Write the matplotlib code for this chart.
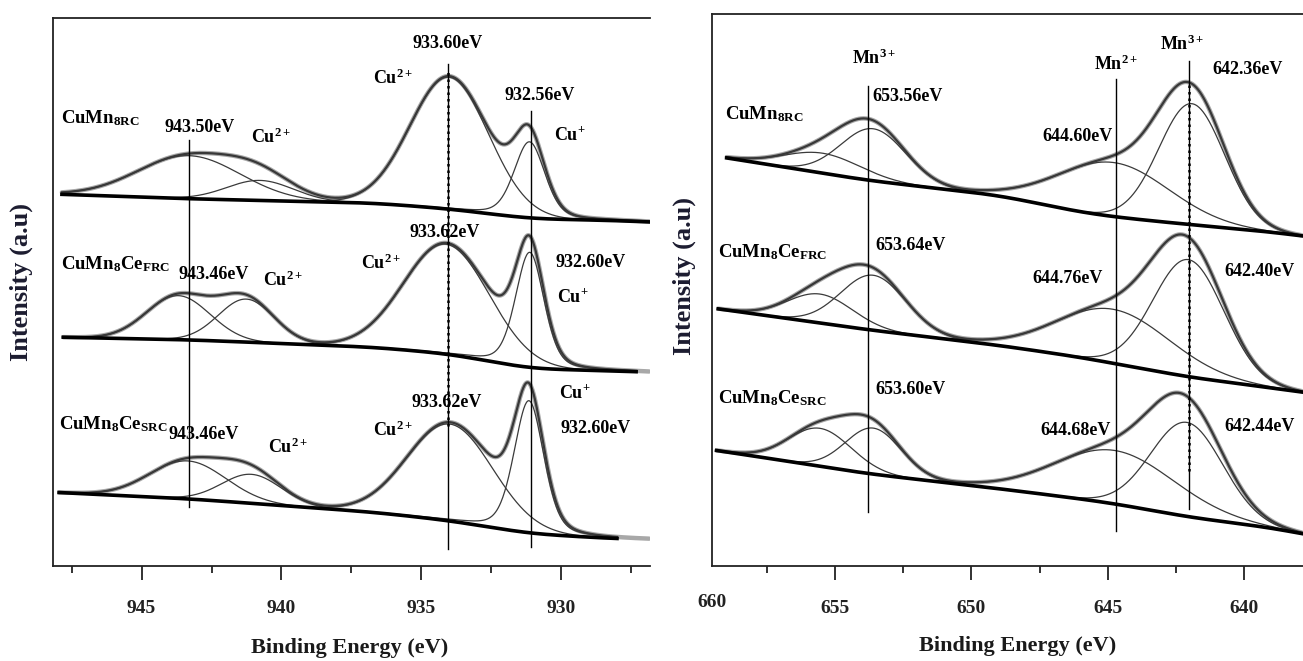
import numpy as np
import matplotlib.pyplot as plt

plt.rcParams['font.family'] = 'Liberation Serif'
plt.rcParams['mathtext.fontset'] = 'custom'
plt.rcParams['mathtext.rm'] = 'Liberation Serif:bold'
plt.rcParams['mathtext.default'] = 'rm'

# ---- Cu 2p spectra (top to bottom) ----
cu_names = ['CuMn$_{8RC}$', 'CuMn$_8$Ce$_{FRC}$', 'CuMn$_8$Ce$_{SRC}$']
cu_start = [947.85, 947.8, 947.95]
cu_end = [926.85, 927.3, 928.0]
cu_bg_e = [948.2, 943.3, 936.7, 934.0, 931.1, 928.0, 926.8]
cu_bg = [[371.5, 366.7, 362.5, 356.7, 346.7, 345.0, 343.5],
         [228.5, 225.7, 218.3, 211.7, 196.7, 194.5, 193.3],
         [73.3, 66.7, 53.3, 45.0, 31.7, 26.7, 26.0]]
# components: satellite 1, satellite 2, Cu2+, Cu+
cu_pos = [[943.31, 940.77, 934.0, 931.13],
          [943.69, 941.26, 934.1, 931.12],
          [943.35, 941.07, 933.97, 931.15]]
cu_height = [[43, 20, 132, 76],
             [44, 43, 110, 115],
             [38, 29, 97, 132]]
cu_fwhm = [[4.3, 2.8, 3.3, 1.3],
           [2.66, 2.33, 3.6, 1.2],
           [3.2, 2.5, 3.6, 1.25]]
cu_eta = [0.0, 0.0, 0.0, 0.3]

cu_lines = [943.31, 934.05, 931.08]
cu_lines_top = [425.7, 501.7, 455.0]
cu_lines_bot = [58.3, 16.7, 18.3]

cu_notes = [('933.60eV', 934.04, 522), ('Cu$^{2+}$', 936.0, 487),
            ('932.56eV', 930.75, 470), ('Cu$^{+}$', 929.68, 430),
            ('943.50eV', 942.94, 438), ('Cu$^{2+}$', 940.38, 428),
            ('933.62eV', 934.15, 333), ('Cu$^{2+}$', 936.44, 302),
            ('932.60eV', 928.96, 303), ('Cu$^{+}$', 929.57, 268),
            ('943.46eV', 942.44, 291), ('Cu$^{2+}$', 939.94, 285),
            ('933.62eV', 934.09, 163), ('Cu$^{2+}$', 936.0, 135),
            ('Cu$^{+}$', 929.5, 172), ('932.60eV', 928.78, 137),
            ('943.46eV', 942.77, 131), ('Cu$^{2+}$', 939.76, 118)]
cu_name_pos = [(947.9, 447), (947.9, 301), (947.95, 141)]

# ---- Mn 2p spectra (top to bottom) ----
mn_start = [658.97, 659.28, 659.34]
mn_end = [637.9, 637.9, 637.9]
mn_bg_e = [659.3, 653.78, 648.95, 646.02, 644.7, 642.03, 639.0, 637.85]
mn_bg = [[409.0, 385.0, 370.0, 353.3, 348.3, 341.0, 333.5, 329.5],
         [256.7, 235.7, 220.0, 208.3, 201.7, 188.3, 177.7, 173.3],
         [115.0, 91.7, 76.7, 66.7, 61.7, 48.3, 37.7, 31.7]]
# components: shoulder, Mn3+ 2p1/2, Mn2+, Mn3+ 2p3/2
mn_pos = [[655.45, 653.6, 644.8, 641.93],
          [655.55, 653.6, 644.8, 642.05],
          [655.55, 653.6, 644.74, 642.11]]
mn_height = [[20, 52, 54, 121],
             [29, 55, 54, 117],
             [38, 46, 53.5, 94]]
mn_fwhm = [[3.3, 2.8, 4.8, 2.83],
           [2.8, 2.8, 4.9, 3.05],
           [2.7, 2.4, 5.2, 3.1]]
mn_eta = [0.0, 0.0, 0.0, 0.0]

mn_lines = [653.78, 644.70, 642.02]
mn_lines_top = [480.0, 486.7, 505.0]
mn_lines_bot = [53.3, 35.0, 56.7]

mn_notes = [('Mn$^{3+}$', 653.57, 507), ('653.56eV', 652.34, 469),
            ('Mn$^{2+}$', 644.71, 501), ('Mn$^{3+}$', 642.28, 521),
            ('642.36eV', 639.88, 496), ('644.60eV', 646.1, 429),
            ('653.64eV', 652.22, 320), ('644.76eV', 646.48, 287),
            ('642.40eV', 639.46, 294), ('653.60eV', 652.25, 176),
            ('644.68eV', 646.17, 135), ('642.44eV', 639.43, 139)]
mn_name_pos = [(659.03, 451), (659.28, 313), (659.28, 167.5)]


def pvoigt(e, c, h, w, eta):
    x = (e - c) / w
    return h * ((1 - eta) * np.exp(-4 * np.log(2) * x ** 2) + eta / (1 + 4 * x ** 2))


def baseline(e, bg_e, bg_i, smooth=0.8):
    # background through the read-off points, with the corners rounded off
    b = np.interp(e, bg_e[::-1], bg_i[::-1])
    de = abs(e[1] - e[0])
    n = int(3 * smooth / de)
    k = np.exp(-0.5 * (np.arange(-n, n + 1) * de / smooth) ** 2)
    k /= k.sum()
    bp = np.pad(b, n, mode='reflect', reflect_type='odd')
    return np.convolve(bp, k, mode='valid')


def draw_spectrum(ax, start, end, bg_e, bg_i, pos, height, fwhm, eta, raw_end):
    er = np.linspace(start, raw_end, 900)
    bg_r = baseline(er, bg_e, bg_i)
    comps_r = [pvoigt(er, c, h, w, k) for c, h, w, k in zip(pos, height, fwhm, eta)]
    raw = bg_r + np.sum(comps_r, axis=0)
    fit = er >= end - 1e-9
    e = er[fit]
    bg = bg_r[fit]
    env = raw[fit]

    ax.plot(er, raw, color='#a8a8a8', lw=3.2, solid_capstyle='round', zorder=2)
    for comp in comps_r:
        ax.plot(e, bg + comp[fit], color='#3a3a3a', lw=0.9, zorder=3)
    ax.plot(e, env, color='#383838', lw=1.6, zorder=4)
    ax.plot(e, bg, color='black', lw=2.6, zorder=5)


def style_axes(ax):
    ax.spines['right'].set_visible(False)
    for s in ['left', 'top', 'bottom']:
        ax.spines[s].set_linewidth(1.3)
        ax.spines[s].set_color('#222222')
    ax.set_yticks([])
    ax.tick_params(axis='x', which='major', direction='out', length=10, width=1.3,
                   labelsize=14, pad=15, colors='#222222')
    ax.tick_params(axis='x', which='minor', direction='out', length=5, width=1.3,
                   colors='#222222')
    for lab in ax.get_xticklabels():
        lab.set_fontweight('bold')


fig = plt.figure(figsize=(13.03, 6.61), dpi=100)

# ---- left panel ----
ax1 = fig.add_axes([52.7 / 1303, 95.5 / 661, (650 - 52.7) / 1303, 547.5 / 661])
ax1.set_xlim(948.18, 926.82)
ax1.set_ylim(0, 547.5)
for i in range(3):
    draw_spectrum(ax1, cu_start[i], cu_end[i], cu_bg_e, cu_bg[i], cu_pos[i],
                  cu_height[i], cu_fwhm[i], cu_eta, 926.85)
for x, t, b in zip(cu_lines, cu_lines_top, cu_lines_bot):
    ax1.plot([x, x], [b, t], color='black', lw=1.0, zorder=6)
ax1.plot([cu_lines[1], cu_lines[1]], [140, 497], color='black', lw=1.8,
         ls=(0, (1, 1.6)), zorder=6)
for txt, x, y in cu_notes:
    ax1.text(x, y, txt, ha='center', va='center', fontsize=13, fontweight='bold', zorder=7)
for name, (x, y) in zip(cu_names, cu_name_pos):
    ax1.text(x, y, name, ha='left', va='center', fontsize=13.5, fontweight='bold', zorder=7)
ax1.set_xticks([945, 940, 935, 930])
ax1.set_xticks([947.5, 942.5, 937.5, 932.5, 927.5], minor=True)
style_axes(ax1)

# ---- right panel ----
ax2 = fig.add_axes([711.7 / 1303, 95.5 / 661, (1303 - 711.7) / 1303, 551.5 / 661])
ax2.set_xlim(659.52, 637.85)
ax2.set_ylim(0, 551.5)
for i in range(3):
    draw_spectrum(ax2, mn_start[i], mn_end[i], mn_bg_e, mn_bg[i], mn_pos[i],
                  mn_height[i], mn_fwhm[i], mn_eta, 637.9)
for x, t, b in zip(mn_lines, mn_lines_top, mn_lines_bot):
    ax2.plot([x, x], [b, t], color='black', lw=1.0, zorder=6)
ax2.plot([mn_lines[2], mn_lines[2]], [95, 483], color='black', lw=1.8,
         ls=(0, (1, 1.6)), zorder=6)
for txt, x, y in mn_notes:
    ax2.text(x, y, txt, ha='center', va='center', fontsize=13, fontweight='bold', zorder=7)
for name, (x, y) in zip(cu_names, mn_name_pos):
    ax2.text(x, y, name, ha='left', va='center', fontsize=13.5, fontweight='bold', zorder=7)
ax2.set_xticks([655, 650, 645, 640])
ax2.set_xticks([657.5, 652.5, 647.5, 642.5], minor=True)
style_axes(ax2)
ax2.text(659.52, -0.067, '660', transform=ax2.get_xaxis_transform(), ha='center',
         va='center', fontsize=14, fontweight='bold', color='#222222')

# axis titles
fig.text(21 / 1303, 1 - 282 / 661, 'Intensity (a.u)', rotation=90, ha='center', va='center',
         fontsize=19, fontweight='bold', color='#1c1c30')
fig.text(684 / 1303, 1 - 276 / 661, 'Intensity (a.u)', rotation=90, ha='center', va='center',
         fontsize=19, fontweight='bold', color='#1c1c30')
fig.text(350 / 1303, 1 - 648 / 661, 'Binding Energy (eV)', ha='center', va='center',
         fontsize=16, fontweight='bold', color='#1a1a1a')
fig.text(1018 / 1303, 1 - 646 / 661, 'Binding Energy (eV)', ha='center', va='center',
         fontsize=16, fontweight='bold', color='#1a1a1a')

fig.savefig('out.png', dpi=100, facecolor='white')
